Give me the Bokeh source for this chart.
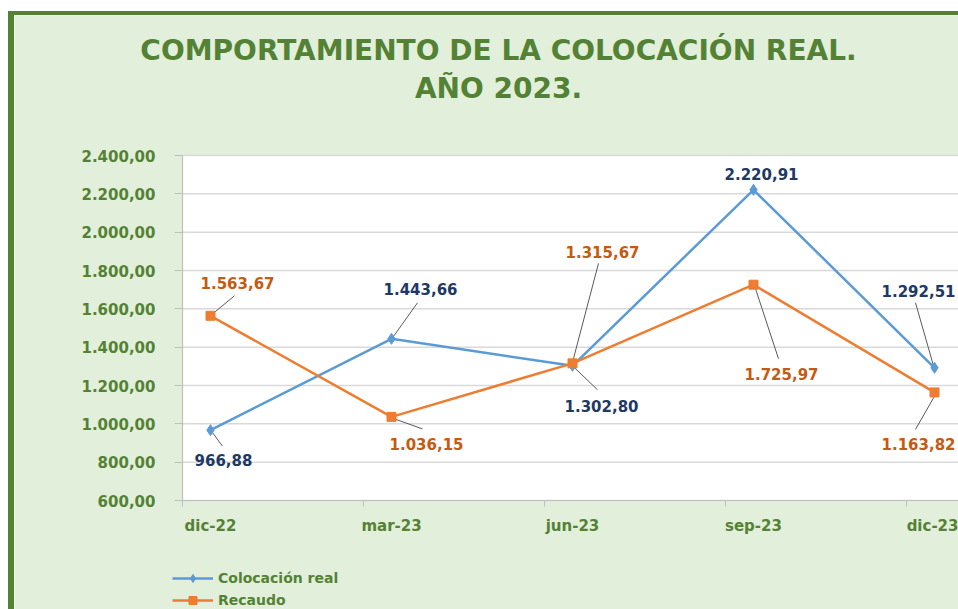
from bokeh.plotting import figure
from bokeh.models import FixedTicker, Label, Legend, LegendItem
from bokeh.embed import file_html
from bokeh.resources import INLINE

# ---------------- data ----------------
categories = ["dic-22", "mar-23", "jun-23", "sep-23", "dic-23"]
colocacion = [966.88, 1443.66, 1302.80, 2220.91, 1292.51]
recaudo = [1563.67, 1036.15, 1315.67, 1725.97, 1163.82]
y_ticks = [600, 800, 1000, 1200, 1400, 1600, 1800, 2000, 2200, 2400]
series_names = ["Colocación real", "Recaudo"]
title_lines = ["COMPORTAMIENTO DE LA COLOCACIÓN REAL.", "AÑO 2023."]

# ---------------- layout constants ----------------
MX, MY = 8, 11                       # css margins
BX, BY = 6, 4                        # css border widths
OX, OY = MX + BX, MY + BY            # canvas origin in the picture
W, H = 958 - MX, 609 - MY            # element size
CW, CH = W, H                        # canvas size (drawn inside the border)
PX_X = 181.0                         # px per category
X_FIRST = 210                        # picture x of first category
AREA_L, AREA_R, AREA_T, AREA_B = 182, 958, 155, 500   # plot area in picture px
Y0, Y1 = y_ticks[0], y_ticks[-1]
PX_Y = (AREA_B - AREA_T) / (Y1 - Y0)


def dx(px):
    return (px - X_FIRST) / PX_X


def dy(py):
    return Y0 + (AREA_B - py) / PX_Y


GREEN = "#548235"
BG = "#E2EFDA"
BLUE = "#5B9BD5"
ORANGE = "#ED7D31"
NAVY = "#203864"
DKORANGE = "#C55A11"
GRID = "#D9D9D9"
AXIS = "#BFBFBF"
FONT = "DejaVu Sans"


def fmt(v):
    s = f"{v:,.2f}"
    return s.replace(",", "X").replace(".", ",").replace("X", ".")


xs = list(range(len(categories)))
XL, XR = dx(AREA_L), dx(AREA_R + 20)

p = figure(width=W, height=H,
           x_range=(dx(OX), dx(OX + CW)), y_range=(dy(OY + CH), dy(OY)),
           output_backend="svg", toolbar_location=None,
           min_border=0, min_border_left=0, min_border_right=0,
           min_border_top=0, min_border_bottom=0,
           background_fill_color=BG, border_fill_color=BG,
           outline_line_color=None)
p.styles = {"border-left": f"{BX}px solid {GREEN}", "border-top": f"{BY}px solid {GREEN}",
            "margin-left": f"{MX}px", "margin-top": f"{MY}px"}

# white plot area and horizontal grid lines
p.quad(left=[XL], right=[XR], bottom=[Y0], top=[Y1], fill_color="white", line_color=None)
p.segment(x0=[XL] * len(y_ticks), y0=y_ticks, x1=[XR] * len(y_ticks), y1=y_ticks,
          line_color=GRID, line_width=1.5)
p.xgrid.visible = False
p.ygrid.visible = False

# axes drawn at fixed locations
xa = p.xaxis[0]
xa.fixed_location = Y0
xa.bounds = (XL, XR)
xa.ticker = FixedTicker(ticks=xs, minor_ticks=[i + dx(AREA_L) for i in xs])
xa.major_label_overrides = {i: c for i, c in zip(xs, categories)}
xa.major_tick_line_color = None
xa.major_tick_out = 0
xa.major_tick_in = 0
xa.minor_tick_out = 6
xa.minor_tick_in = 0
xa.minor_tick_line_color = AXIS
xa.major_label_standoff = 10

ya = p.yaxis[0]
ya.fixed_location = XL
ya.bounds = (Y0, Y1)
ya.ticker = FixedTicker(ticks=y_ticks)
ya.major_label_overrides = {t: fmt(t) for t in y_ticks}
ya.major_tick_out = 8
ya.major_tick_in = 0
ya.minor_tick_line_color = None
ya.major_tick_line_color = AXIS
ya.major_label_standoff = 19

for ax in (xa, ya):
    ax.axis_line_color = AXIS
    ax.axis_line_width = 1.2
    ax.major_label_text_font = FONT
    ax.major_label_text_font_style = "bold"
    ax.major_label_text_font_size = "15px"
    ax.major_label_text_color = GREEN

# label offsets in px from the point (down positive) and leader lines
lab_c = [(13, 30), (29, -50), (29, 40), (8, -16), (-16, -77)]
lab_r = [(27, -33), (35, 27), (30, -111), (28, 89), (-16, 52)]
lead_c = [((1, 1), (12, 16)), ((1, -1), (26, -36)), ((1, 1), (25, 24)), None, ((-1, -2), (-19, -65))]
lead_r = [((1, -1), (24, -20)), ((3, 2), (31, 12)), ((0, -1), (26, -100)), ((1, 1), (25, 74)), ((1, 2), (-19, 37))]

for vals, leads in ((colocacion, lead_c), (recaudo, lead_r)):
    x0s, y0s, x1s, y1s = [], [], [], []
    for i, (v, ld) in enumerate(zip(vals, leads)):
        if ld is None:
            continue
        (a, b), (c, d) = ld
        x0s.append(i + a / PX_X); y0s.append(v - b / PX_Y)
        x1s.append(i + c / PX_X); y1s.append(v - d / PX_Y)
    p.segment(x0s, y0s, x1s, y1s, line_color="#595959", line_width=1)

# series
l_c = p.line(xs, colocacion, line_color=BLUE, line_width=2.5)
s_c = p.scatter(xs, colocacion, marker="diamond", size=11, fill_color=BLUE, line_color=BLUE)
l_r = p.line(xs, recaudo, line_color=ORANGE, line_width=2.5)
s_r = p.scatter(xs, recaudo, marker="square", size=9, fill_color=ORANGE, line_color=ORANGE)

# data labels
for vals, offs, col in ((colocacion, lab_c, NAVY), (recaudo, lab_r, DKORANGE)):
    for i, (v, (ox, oy)) in enumerate(zip(vals, offs)):
        p.add_layout(Label(x=i, y=v, x_offset=ox, y_offset=-oy, text=fmt(v),
                           text_align="center", text_baseline="middle",
                           text_font=FONT, text_font_style="bold",
                           text_font_size="15px", text_color=col))

# title
for txt, py in zip(title_lines, (50, 88)):
    p.add_layout(Label(x=dx(498), y=dy(py), text=txt, text_align="center",
                       text_baseline="middle", text_font=FONT,
                       text_font_style="bold", text_font_size="28px",
                       text_color=GREEN))

# legend
legend = Legend(items=[LegendItem(label=series_names[0], renderers=[l_c, s_c]),
                       LegendItem(label=series_names[1], renderers=[l_r, s_r])],
                location=(172 - OX, CH - (610 - OY)), orientation="vertical",
                glyph_width=41, glyph_height=20, label_height=20,
                label_standoff=5, spacing=2, padding=0, margin=0,
                border_line_color=None, background_fill_alpha=0,
                label_text_font=FONT, label_text_font_style="bold",
                label_text_font_size="14px", label_text_color=GREEN)
p.add_layout(legend)

open("out.html", "w").write(file_html(p, INLINE))
